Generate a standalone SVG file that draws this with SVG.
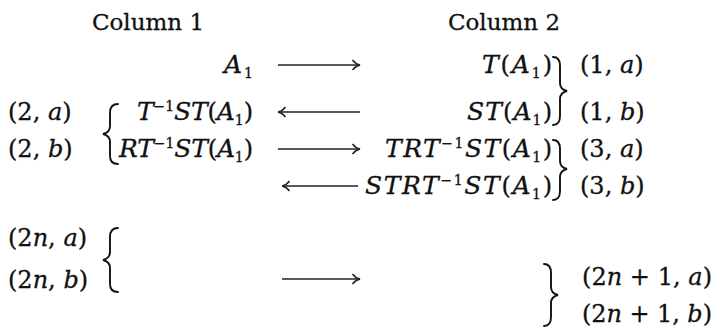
<svg xmlns="http://www.w3.org/2000/svg" width="718" height="332" viewBox="0 0 718 332">
<style>
text{font-family:"DejaVu Serif","Liberation Serif",serif;font-size:24px;fill:#111;stroke:#111;stroke-width:0.3}
.i{font-style:italic}
.m .i{font-size:25px}
.s{font-size:14px}
.hd{font-size:23px}
.br{fill:none;stroke:#111;stroke-width:1.9;stroke-linecap:round}
.ar{fill:none;stroke:#222;stroke-width:1.3}
</style>
<defs>
<marker id="ah" viewBox="0 0 10 12" refX="9.5" refY="6" markerWidth="10" markerHeight="12" markerUnits="userSpaceOnUse" orient="auto-start-reverse">
<path d="M2,1 Q5,5 9.5,6 Q5,7 2,11" fill="none" stroke="#222" stroke-width="1.4"/>
</marker>
</defs>
<rect width="718" height="332" fill="#fff"/>

<g id="col1"><text class="hd" x="148" y="30" text-anchor="middle">Column 1</text></g>
<g id="col2"><text class="hd" x="504" y="30" text-anchor="middle">Column 2</text></g>

<g id="a1"><text class="m" x="253" y="73" text-anchor="end"><tspan class="i">A</tspan><tspan class="s" dx="2" dy="5">1</tspan></text></g>
<g id="tinvst"><text class="m" x="253" y="120" text-anchor="end" textLength="116" lengthAdjust="spacing"><tspan class="i">T</tspan><tspan class="s" dy="-9">−1</tspan><tspan class="i" dy="9">ST</tspan>(<tspan class="i">A</tspan><tspan class="s" dy="5">1</tspan><tspan dy="-5">)</tspan></text></g>
<g id="rtinvst"><text class="m" x="253" y="157" text-anchor="end" textLength="134" lengthAdjust="spacing"><tspan class="i">RT</tspan><tspan class="s" dy="-9">−1</tspan><tspan class="i" dy="9">ST</tspan>(<tspan class="i">A</tspan><tspan class="s" dy="5">1</tspan><tspan dy="-5">)</tspan></text></g>

<g id="ta1"><text class="m" x="552" y="73" text-anchor="end" textLength="70" lengthAdjust="spacing"><tspan class="i">T</tspan>(<tspan class="i">A</tspan><tspan class="s" dy="5">1</tspan><tspan dy="-5">)</tspan></text></g>
<g id="sta1"><text class="m" x="552" y="120" text-anchor="end" textLength="85" lengthAdjust="spacing"><tspan class="i">ST</tspan>(<tspan class="i">A</tspan><tspan class="s" dy="5">1</tspan><tspan dy="-5">)</tspan></text></g>
<g id="trt"><text class="m" x="552" y="157" text-anchor="end" textLength="167" lengthAdjust="spacing"><tspan class="i">TRT</tspan><tspan class="s" dy="-9">−1</tspan><tspan class="i" dy="9">ST</tspan>(<tspan class="i">A</tspan><tspan class="s" dy="5">1</tspan><tspan dy="-5">)</tspan></text></g>
<g id="strt"><text class="m" x="552" y="194" text-anchor="end" textLength="187" lengthAdjust="spacing"><tspan class="i">STRT</tspan><tspan class="s" dy="-9">−1</tspan><tspan class="i" dy="9">ST</tspan>(<tspan class="i">A</tspan><tspan class="s" dy="5">1</tspan><tspan dy="-5">)</tspan></text></g>

<g id="lab2a"><text x="8" y="120">(2, <tspan class="i">a</tspan>)</text></g>
<g id="lab2b"><text x="8" y="157">(2, <tspan class="i">b</tspan>)</text></g>
<g id="lab2na"><text x="8" y="246">(2<tspan class="i">n</tspan>, <tspan class="i">a</tspan>)</text></g>
<g id="lab2nb"><text x="8" y="288">(2<tspan class="i">n</tspan>, <tspan class="i">b</tspan>)</text></g>
<g id="lab1a"><text x="580" y="73">(1, <tspan class="i">a</tspan>)</text></g>
<g id="lab1b"><text x="580" y="120">(1, <tspan class="i">b</tspan>)</text></g>
<g id="lab3a"><text x="580" y="157">(3, <tspan class="i">a</tspan>)</text></g>
<g id="lab3b"><text x="580" y="194">(3, <tspan class="i">b</tspan>)</text></g>
<g id="lab2n1a"><text x="582" y="285" textLength="130" lengthAdjust="spacing">(2<tspan class="i">n</tspan> + 1, <tspan class="i">a</tspan>)</text></g>
<g id="lab2n1b"><text x="582" y="322" textLength="130" lengthAdjust="spacing">(2<tspan class="i">n</tspan> + 1, <tspan class="i">b</tspan>)</text></g>

<g id="braces">
<path class="br" d="M118,104 C112,104 110,107 110,113 L110,126 C110,131 107,133 103,134 C107,135 110,137 110,142 L110,156 C110,161 112,164 118,164"/>
<path class="br" d="M118,228 C112,228 110,231 110,237 L110,252 C110,257 107,259 103,260 C107,261 110,263 110,268 L110,284 C110,289 112,292 118,292"/>
<path class="br" d="M553,57 C558,57 560,60 560,66 L560,83 C560,88 563,90 567,91 C563,92 560,94 560,99 L560,116 C560,121 558,125 553,125"/>
<path class="br" d="M553,140 C558,140 560,143 560,149 L560,161 C560,166 563,168 567,169 C563,170 560,172 560,177 L560,191 C560,196 558,200 553,200"/>
<path class="br" d="M544,264 C549,264 551,267 551,273 L551,287 C551,292 554,294 558,295 C554,296 551,298 551,303 L551,317 C551,322 549,326 544,326"/>
</g>

<g id="connectors">
<line class="ar" x1="278" y1="65" x2="360" y2="65" marker-end="url(#ah)"/>
<line class="ar" x1="278" y1="112" x2="360" y2="112" marker-start="url(#ah)"/>
<line class="ar" x1="278" y1="149" x2="360" y2="149" marker-end="url(#ah)"/>
<line class="ar" x1="282" y1="186" x2="358" y2="186" marker-start="url(#ah)"/>
<line class="ar" x1="282" y1="279" x2="360" y2="279" marker-end="url(#ah)"/>
</g>
</svg>
